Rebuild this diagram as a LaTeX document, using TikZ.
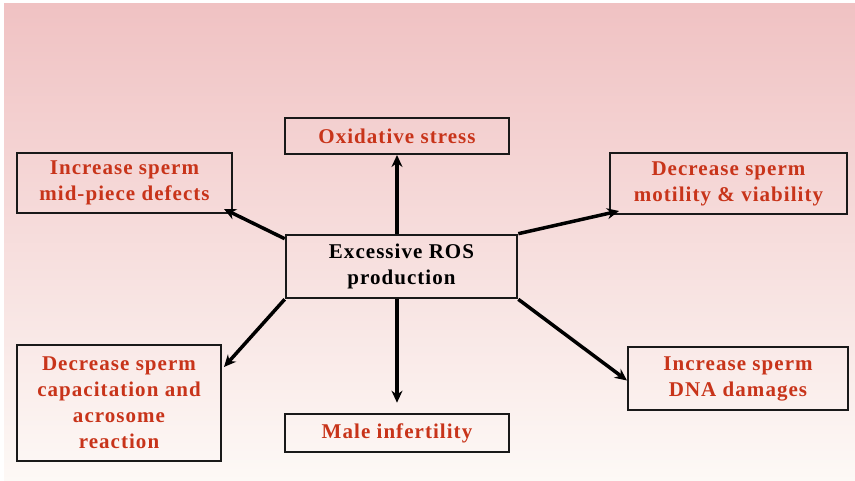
\documentclass[tikz,border=0pt]{standalone}
\usepackage{fontspec}
\setmainfont{Liberation Serif}
\newfontfamily\boxfont[LetterSpace=5]{Liberation Serif}
\usetikzlibrary{arrows.meta,calc}
\definecolor{txtred}{RGB}{200,52,26}
\definecolor{bgtop}{RGB}{240,194,195}
\definecolor{bgbot}{RGB}{253,249,246}
\definecolor{boxline}{RGB}{25,25,25}
\begin{document}
\begin{tikzpicture}[x=1pt,y=-1pt,
  box/.style={draw=boxline,line width=2pt,inner sep=0pt,align=center,
    font=\boxfont\fontsize{21}{26}\selectfont\bfseries,text=txtred},
  mainbox/.style={box,line width=2.6pt,text=black},
  conn/.style={line width=3.5pt,-{Stealth[length=12pt,width=11pt]}}]
\useasboundingbox (0,0) rectangle (855,481);
\fill[white] (0,0) rectangle (855,481);
\shade[top color=bgtop,bottom color=bgbot] (4,4) rectangle (855,481);

\node[box,minimum width=224pt,minimum height=36pt] (ox) at (397,136) {Oxidative stress};
\node[mainbox,minimum width=231pt,minimum height=63pt] (ros) at (401.5,266.5) {Excessive ROS\\production};
\node[box,minimum width=215pt,minimum height=60pt] (mid) at (124.5,183) {Increase sperm\\mid-piece defects};
\node[box,minimum width=237pt,minimum height=61pt] (mot) at (728.5,183.5) {Decrease sperm\\motility \& viability};
\node[box,minimum width=204pt,minimum height=116pt] (cap) at (119,403) {Decrease sperm\\capacitation and\\acrosome\\reaction};
\node[box,minimum width=220pt,minimum height=63pt] (dna) at (738,378.5) {Increase sperm\\DNA damages};
\node[box,line width=2.6pt,minimum width=224pt,minimum height=38pt] (male) at (397,433) {Male infertility};

\draw[conn] (ros.north -| ox.south) -- (ox.south);
\draw[conn] ($(ros.north west)+(0,5)$) -- ($(mid.south east)+(-9,-5)$);
\draw[conn] (ros.north east) -- ($(mot.south west)+(10,-4)$);
\draw[conn] (ros.south west) -- ($(cap.north east)+(2,23)$);
\draw[conn] (ros.south east) -- ($(dna.west)+(0,2)$);
\draw[conn,shorten >=10pt] (ros.south -| male.north) -- (male.north);
\end{tikzpicture}
\end{document}
